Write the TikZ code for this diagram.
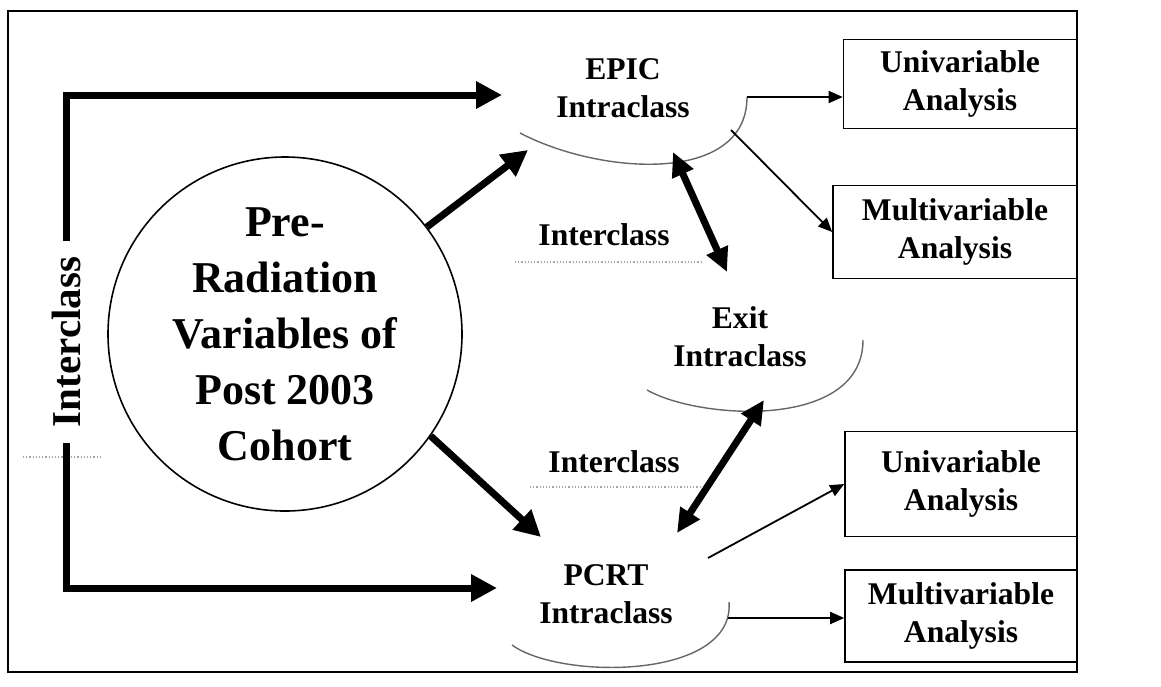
\documentclass[tikz,border=0pt]{standalone}
\usepackage{fontspec}
\setmainfont{Liberation Serif}
\usetikzlibrary{arrows.meta}

\begin{document}
\begin{tikzpicture}[x=0.5pt,y=-0.5pt,
		txt/.style={font=\bfseries\fontsize{15.8}{19}\selectfont,align=center,inner sep=0pt},
		box/.style={draw,rectangle,line width=0.8pt,txt},
		intra/.style={draw=black!60,line width=0.7pt},
		heavy/.style={line width=3.5pt,-{Triangle[length=13pt,width=13pt]}},
		twoway/.style={line width=3.5pt,{Triangle[length=12pt,width=11pt]}-{Triangle[length=12pt,width=11pt]}},
		light/.style={line width=0.9pt,-{Triangle[length=7pt,width=6pt]}},
		underline/.style={draw=black!35,line width=0.6pt,densely dotted}]
		\useasboundingbox (0,0) rectangle (1161,686);
		\draw [line width=0.8pt] (8,11) rectangle (1077,672);

		\node [draw,circle,line width=0.8pt,minimum size=177pt,txt,font=\bfseries\fontsize{22}{28}\selectfont] (pre) at (285,334) {Pre-\\Radiation\\Variables of\\Post 2003\\Cohort};

		\node [txt] (epic) at (623,88) {EPIC\\Intraclass};
		\node [txt] (exit) at (740,337) {Exit\\Intraclass};
		\node [txt] (pcrt) at (606,594) {PCRT\\Intraclass};
			\draw [intra] (520,133) .. controls (600,175) and (747,185) .. (747,97);
			\draw [intra] (647,390) .. controls (700,420) and (863,430) .. (863,340);
			\draw [intra] (512,645) .. controls (560,680) and (735,680) .. (729,602);

		\node [box,minimum width=116.5pt,minimum height=44.5pt] (uni1) at (960,84) {Univariable\\Analysis};
		\node [box,minimum width=122pt,minimum height=46.5pt] (multi1) at (955,232) {Multivariable\\Analysis};
		\node [box,minimum width=116pt,minimum height=52.5pt] (uni2) at (961,484) {Univariable\\Analysis};
		\node [box,minimum width=116pt,minimum height=46pt] (multi2) at (961,616) {Multivariable\\Analysis};

		\node [txt] (inter1) at (604,235) {Interclass};
		\node [txt] (inter2) at (614,462) {Interclass};
		\node [txt,rotate=90,font=\bfseries\fontsize{20.5}{24}\selectfont] (inter3) at (66,342) {Interclass};
			\draw [underline] (515,262) -- (703,262);
			\draw [underline] (530,487) -- (700,487);
			\draw [underline] (23,457) -- (100,457);

		% points on the intraclass outlines
		\coordinate (epicin) at (502,95);
		\coordinate (epicsw) at (528,150);
		\coordinate (epics) at (673,152);
		\coordinate (epice) at (747,97);
		\coordinate (epicse) at (731,130);
		\coordinate (exitn) at (727,272);
		\coordinate (exits) at (764,400);
		\coordinate (pcrtin) at (497,588);
		\coordinate (pcrtnw) at (541,537);
		\coordinate (pcrtn) at (677,533);
		\coordinate (pcrtne) at (708,558);
		\coordinate (pcrte) at (728,618);

		\draw [heavy] ([yshift=8pt]inter3.east) |- (epicin);
		\draw [heavy] ([yshift=-8pt]inter3.west) |- (pcrtin);
		\draw [heavy] (pre.37) -- (epicsw);
		\draw [heavy] (pre.-35) -- (pcrtnw);
		\draw [twoway] (epics) -- (exitn);
		\draw [twoway] (exits) -- (pcrtn);

		\draw [light] (epice) -- (epice -| uni1.west);
		\draw [light] (epicse) -- (multi1.west);
		\draw [light] (pcrtne) -- (uni2.west);
		\draw [light] (pcrte) -- (pcrte -| multi2.west);
	\end{tikzpicture}
\end{document}
